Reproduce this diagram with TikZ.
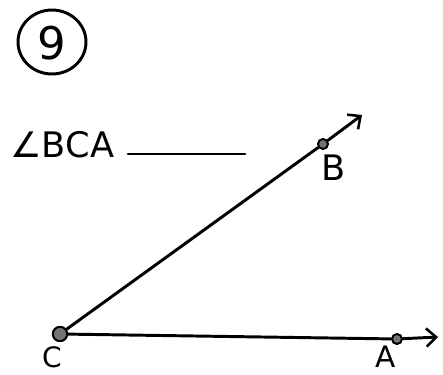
\documentclass[tikz,border=0pt]{standalone}
\usepackage{fontspec}
\setmainfont{DejaVu Sans}
\usetikzlibrary{arrows.meta}
\begin{document}
\begin{tikzpicture}[x=0.025cm, y=-0.025cm, line width=2.1pt, line cap=round,
  every node/.style={font=\fontsize{25}{27}\selectfont},
  dot/.style={circle, draw, fill=black!55, line width=1.4pt, inner sep=0pt, minimum size=0.25cm},
  ray/.style={-{Straight Barb[length=7pt,width=13pt,line width=1.8pt]}}]
  \useasboundingbox (0,0) rectangle (443,375);
  % problem number
  \draw (52,42) ellipse [x radius=34, y radius=32];
  \node[font=\fontsize{32}{34}\selectfont] (num) at (52,43) {9};
  % question
  \node[anchor=base west, inner sep=0pt] (q) at (9,157) {∠BCA};
  \draw (128,154) -- (245,154);
  % points
  \node[dot, minimum size=0.36cm] (C) at (60,334) {};
  \node[dot] (B) at (323,144) {};
  \node[dot] (A) at (397,339) {};
  \coordinate (tipB) at (362,115);
  \coordinate (tipA) at (438,337);
  % rays
  \draw[ray] (C) -- (B) -- (tipB);
  \draw[ray] (C) -- (A) -- (tipA);
  % labels
  \node (lB) at (334,168) {B};
  \node[anchor=base, inner sep=1pt, font=\fontsize{21}{23}\selectfont] (lA) at (386,367) {A};
  \node[anchor=base, inner sep=1pt, font=\fontsize{20}{22}\selectfont] (lC) at (52,367) {C};
\end{tikzpicture}
\end{document}
